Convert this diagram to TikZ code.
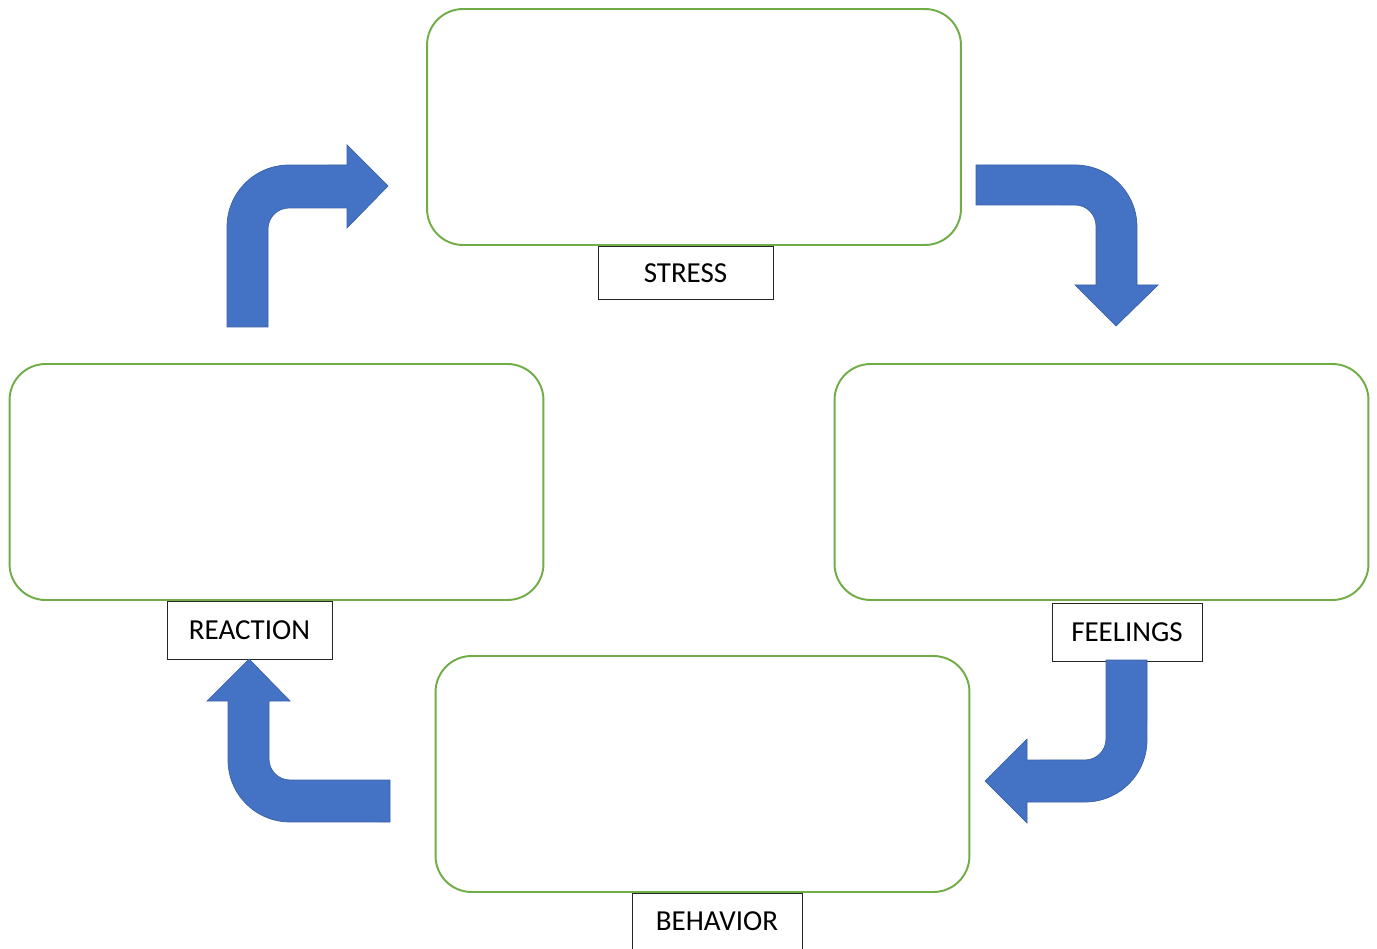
\documentclass[tikz,border=0pt]{standalone}
\usepackage{fontspec}
\setmainfont{Carlito}
\usetikzlibrary{positioning}

\definecolor{boxgreen}{HTML}{70AD47}
\definecolor{arrowblue}{HTML}{4472C4}
\definecolor{arrowedge}{HTML}{3A62A8}

\tikzset{
  panel/.style={draw=boxgreen, line width=1.1pt, rounded corners=0.72cm, fill=white,
    inner sep=0pt, minimum width=10.68cm, minimum height=4.72cm},
  tag/.style={draw=black!85, line width=0.5pt, fill=white, inner sep=0pt,
    minimum height=1.1cm, font=\fontsize{16.5}{19}\selectfont},
  bentarrow/.style={fill=arrowblue, draw=arrowedge, line width=0.4pt}
}

\begin{document}
\begin{tikzpicture}[x=0.02cm,y=-0.02cm]
\useasboundingbox (0,0) rectangle (1377,949);

\node[panel](stress) at (694,127){};
\node[panel](feelings) at (1101.5,482){};
\node[panel](behavior) at (702.5,774){};
\node[panel](reaction) at (276.5,482){};

\node[tag, minimum width=3.5cm, minimum height=1.06cm, below=0pt of stress.south, xshift=-0.17cm](stresslbl){STRESS};
\node[tag, minimum width=3.0cm, minimum height=1.16cm, below=0.04cm of feelings.south, xshift=0.51cm](feelingslbl){FEELINGS};
\node[tag, minimum width=3.4cm, minimum height=1.12cm, below=0pt of behavior.south, xshift=0.29cm](behaviorlbl){BEHAVIOR};
\node[tag, minimum width=3.3cm, minimum height=1.16cm, below=0pt of reaction.south, xshift=-0.54cm](reactionlbl){REACTION};

% reaction -> stress
\filldraw[bentarrow] (227,327) -- (227,227) arc[start angle=180, end angle=90, radius=1.24cm]
  -- (347,165) -- (347,145) -- (388,186) -- (347,228) -- (347,208) -- (289,208)
  arc[start angle=90, end angle=180, radius=0.42cm] -- (268,327) -- cycle;
% stress -> feelings
\filldraw[bentarrow] (976,165) -- (1075,165) arc[start angle=90, end angle=0, radius=1.24cm]
  -- (1137,285) -- (1158,285) -- (1116,326) -- (1075,285) -- (1096,285) -- (1096,226)
  arc[start angle=0, end angle=90, radius=0.42cm] -- (976,205) -- cycle;
% feelings -> behavior
\filldraw[bentarrow] (1106,660) -- (1106,739) arc[start angle=0, end angle=-90, radius=0.42cm]
  -- (1027,760) -- (1027,739) -- (985,781) -- (1027,823) -- (1027,802) -- (1085,802)
  arc[start angle=-90, end angle=0, radius=1.24cm] -- (1147,660) -- cycle;
% behavior -> reaction
\filldraw[bentarrow] (390,780) -- (290,780) arc[start angle=-90, end angle=-180, radius=0.42cm]
  -- (269,701) -- (290,701) -- (249,659) -- (207,701) -- (228,701) -- (228,760)
  arc[start angle=180, end angle=270, radius=1.24cm] -- (390,822) -- cycle;
\end{tikzpicture}
\end{document}
